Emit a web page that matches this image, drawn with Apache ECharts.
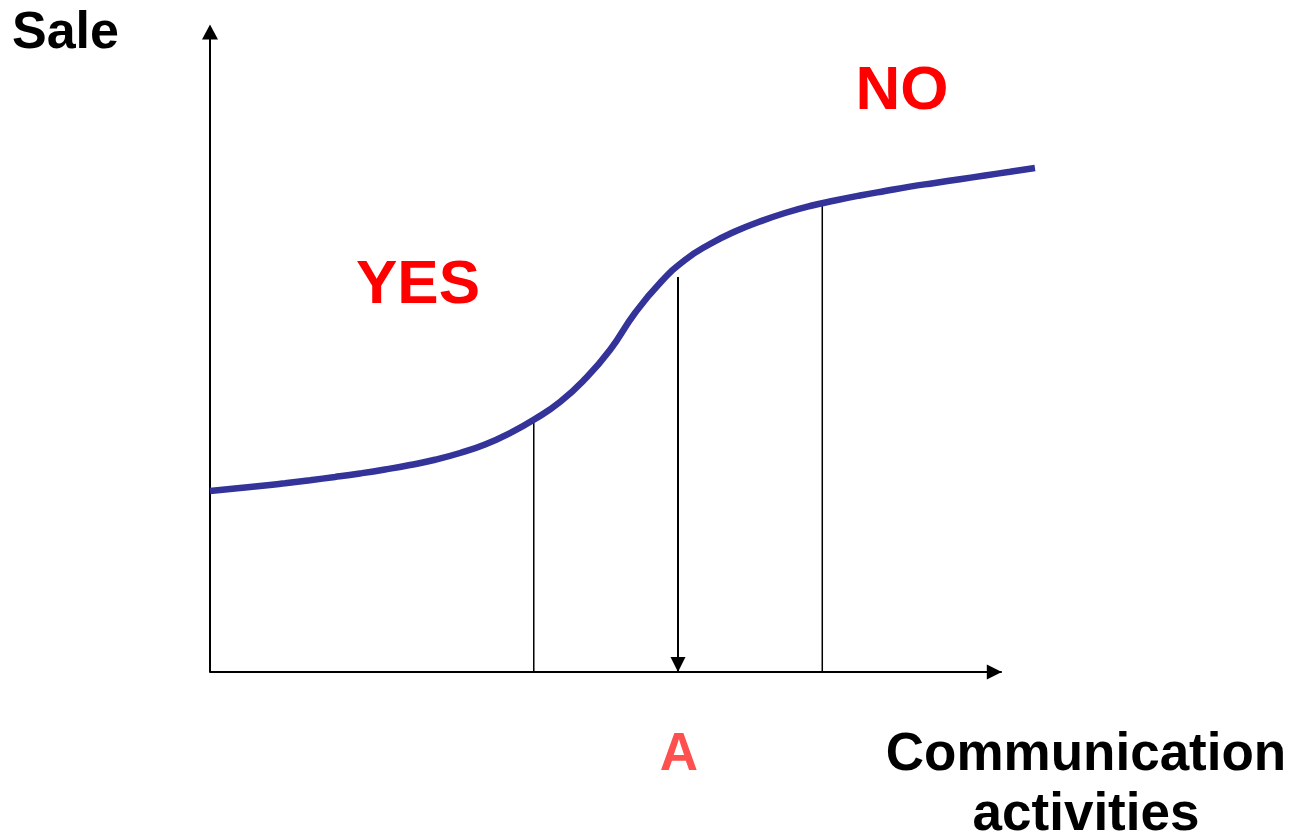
<!DOCTYPE html>
<html><head><meta charset="utf-8">
<script src="https://cdn.jsdelivr.net/npm/echarts@6/dist/echarts.min.js"></script>
<style>html,body{margin:0;padding:0;background:#fff}#c{width:1293px;height:838px}</style>
</head><body><div id="c"></div>
<script>
// Sale response curve (arbitrary units: communication activities 0..100, sale 0..100)
const curveX = [0, 3.19, 6.38, 9.57, 12.76, 15.94, 19.13, 22.32, 25.51, 28.70, 31.89, 35.08, 38.27, 41.45, 44.64, 47.83, 51.02, 54.21, 57.40, 60.59, 63.78, 66.96, 70.15, 73.34, 76.53, 79.72, 82.91, 86.10, 89.29, 92.47, 95.66, 98.85, 102.04, 105.23];
const curveY = [28.28, 28.67, 29.06, 29.5, 29.97, 30.47, 31.02, 31.64, 32.34, 33.16, 34.22, 35.55, 37.34, 39.53, 42.19, 45.78, 50.31, 56.09, 60.78, 64.38, 66.88, 68.83, 70.39, 71.72, 72.81, 73.67, 74.45, 75.16, 75.84, 76.42, 77.0, 77.58, 78.16, 78.75];
const guideX = [41.3, 78.1];
const guideTop = [39.4, 73.1];
const arrowX = 59.7;
const arrowTop = 61.7;
const xAxisEnd = 101;
const yAxisName = 'Sale';
const xAxisName = ['Communication', 'activities'];
const zoneLabels = ['YES', 'NO'];
const pointLabel = 'A';

const FONT = '"Liberation Sans", Arial, Helvetica, sans-serif';
const chart = echarts.init(document.getElementById('c'), null, {renderer: 'canvas'});

const series = [{
  type: 'line',
  data: curveX.map((x, i) => [x, curveY[i]]),
  smooth: 0.5,
  symbol: 'none',
  clip: false,
  lineStyle: {color: '#333399', width: 6.5, cap: 'butt'},
  z: 5,
  markLine: {
    silent: true,
    symbol: ['none', 'triangle'],
    symbolSize: [15, 15],
    symbolOffset: [[0, 0], [0, 7.5]],
    label: {show: false},
    lineStyle: {color: '#000', width: 2, type: 'solid'},
    data: [
      [{coord: [arrowX, arrowTop]}, {coord: [arrowX, 0]}],
      [{coord: [0, 0]}, {coord: [xAxisEnd, 0]}]
    ]
  }
}];
guideX.forEach((gx, i) => {
  series.push({
    type: 'line',
    data: [[gx, 0], [gx, guideTop[i]]],
    symbol: 'none',
    lineStyle: {color: '#000', width: 1.5},
    z: 3
  });
});

chart.setOption({
  backgroundColor: '#fff',
  animation: false,
  grid: {left: 210, top: 32, right: 252, bottom: 166},
  xAxis: {
    type: 'value', min: 0, max: 106,
    axisLine: {show: false},
    axisTick: {show: false}, axisLabel: {show: false}, splitLine: {show: false}
  },
  yAxis: {
    type: 'value', min: 0, max: 100,
    axisLine: {show: true, onZero: false, symbol: ['none', 'triangle'], symbolSize: [16, 15], lineStyle: {color: '#000', width: 2}},
    axisTick: {show: false}, axisLabel: {show: false}, splitLine: {show: false}
  },
  series: series,
  graphic: [
    {type: 'text', left: 12, top: 8, style: {text: yAxisName, font: 'bold 52px ' + FONT, fill: '#000'}},
    {type: 'text', x: 418, y: 286, style: {text: zoneLabels[0], font: 'bold 62px ' + FONT, fill: '#FF0000', align: 'center', verticalAlign: 'middle'}},
    {type: 'text', x: 902, y: 92, style: {text: zoneLabels[1], font: 'bold 62px ' + FONT, fill: '#FF0000', align: 'center', verticalAlign: 'middle'}},
    {type: 'text', x: 679, y: 755, style: {text: pointLabel, font: 'bold 53px ' + FONT, fill: '#FF5050', align: 'center', verticalAlign: 'middle'}},
    {type: 'text', x: 1086, y: 755, style: {text: xAxisName[0], font: 'bold 53px ' + FONT, fill: '#000', align: 'center', verticalAlign: 'middle'}},
    {type: 'text', x: 1086, y: 815, style: {text: xAxisName[1], font: 'bold 53px ' + FONT, fill: '#000', align: 'center', verticalAlign: 'middle'}}
  ]
});
</script></body></html>
